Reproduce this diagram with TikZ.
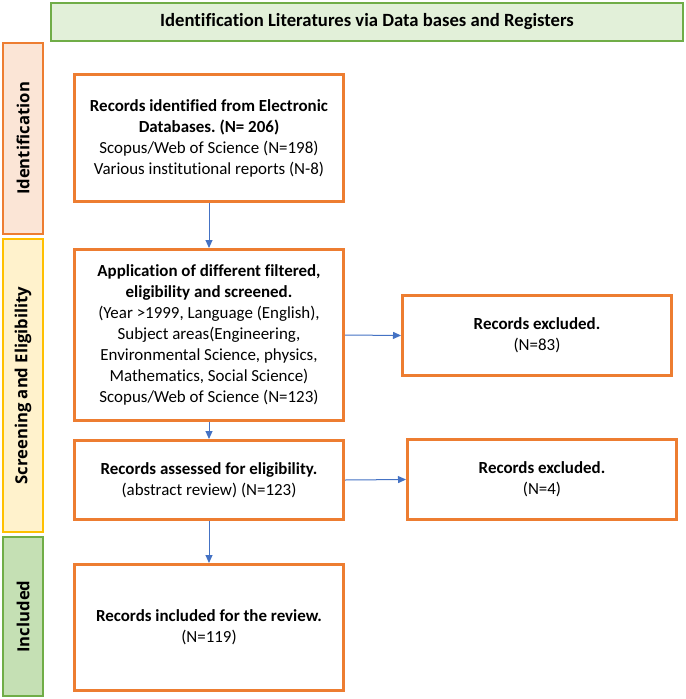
\documentclass[tikz,border=0pt]{standalone}
\usepackage{fontspec}
\setmainfont{Carlito}[Ligatures=CommonOff]
\newfontfamily\sidefont{Open Sans}[Ligatures=CommonOff]
\usetikzlibrary{arrows.meta}
\frenchspacing
\definecolor{boxorange}{HTML}{ED7D31}
\definecolor{idfill}{HTML}{FBE5D6}
\definecolor{scrborder}{HTML}{FFC000}
\definecolor{scrfill}{HTML}{FFF2CC}
\definecolor{grborder}{HTML}{70AD47}
\definecolor{titlefill}{HTML}{E2F0D9}
\definecolor{inclfill}{HTML}{C5E0B4}
\definecolor{arrowblue}{HTML}{4472C4}
\tikzset{
  flowbox/.style={draw=boxorange, line width=2.25pt, fill=white, align=center,
    font=\frenchspacing\fontsize{12.7}{15.75}\selectfont, inner sep=0pt, minimum width=201.75pt},
  sidebox/.style={line width=1.5pt, minimum width=30pt, inner sep=0pt},
  sidelabel/.style={rotate=90, font=\sidefont\bfseries\fontsize{12.5}{15}\selectfont},
  flowarrow/.style={draw=arrowblue, line width=0.75pt, -{Triangle[width=5.25pt,length=6pt]}}
}
\begin{document}
\begin{tikzpicture}[x=0.75pt, y=-0.75pt]
\fill[white] (0,0) rectangle (685,699);
\useasboundingbox (0,0) rectangle (685,699);
% title
\node[draw=grborder, fill=titlefill, line width=1.5pt, minimum width=474pt, minimum height=28.5pt, inner sep=0pt,
  font=\bfseries\fontsize{14}{16}\selectfont] (title) at (367,22) {Identification Literatures via Data bases and Registers};
% side boxes
\node[sidebox, draw=boxorange, fill=idfill, minimum height=143.25pt] (sideid) at (23,138.5) {};
\node[sidelabel] (sideidlabel) at (sideid.center) {Identification};
\node[sidebox, draw=scrborder, fill=scrfill, minimum height=219.75pt] (sidescr) at (23,385.5) {};
\node[sidelabel] (sidescrlabel) at (sidescr.center) {Screening and Eligibility};
\node[sidebox, draw=grborder, fill=inclfill, minimum height=119.25pt] (sideinc) at (23,616.5) {};
\node[sidelabel] (sideinclabel) at (sideinc.center) {Included};
% flow boxes
\node[flowbox, minimum height=95.25pt] (ident) at (209,138) {\textbf{Records identified from Electronic}\\\textbf{Databases. (N= 206)}\\Scopus/Web of Science (N=198)\\Various institutional reports (N-8)};
\node[flowbox, minimum height=128.25pt] (screen) at (209,335) {\textbf{Application of different filtered,}\\\textbf{eligibility and screened.}\\(Year >1999, Language (English),\\Subject areas(Engineering,\\Environmental Science, physics,\\Mathematics, Social Science)\\Scopus/Web of Science (N=123)};
\node[flowbox, minimum height=59.25pt] (elig) at (209,480) {\textbf{Records assessed for eligibility.}\\(abstract review) (N=123)};
\node[flowbox, minimum height=94.5pt] (incl) at (209,627.5) {\textbf{Records included for the review.}\\(N=119)};
\node[flowbox, minimum height=60pt] (excla) at (537,335.5) {\textbf{Records excluded.}\\(N=83)};
\node[flowbox, minimum height=60pt] (exclb) at (542,479.5) {\textbf{Records excluded.}\\(N=4)};
% arrows
\draw[flowarrow] (ident.south) -- (screen.north);
\draw[flowarrow] (screen.south) -- (elig.north);
\draw[flowarrow] (elig.south) -- (incl.north);
\draw[flowarrow] (screen.east) -- (excla.west);
\draw[flowarrow] (elig.east) -- (exclb.west);
\end{tikzpicture}
\end{document}
